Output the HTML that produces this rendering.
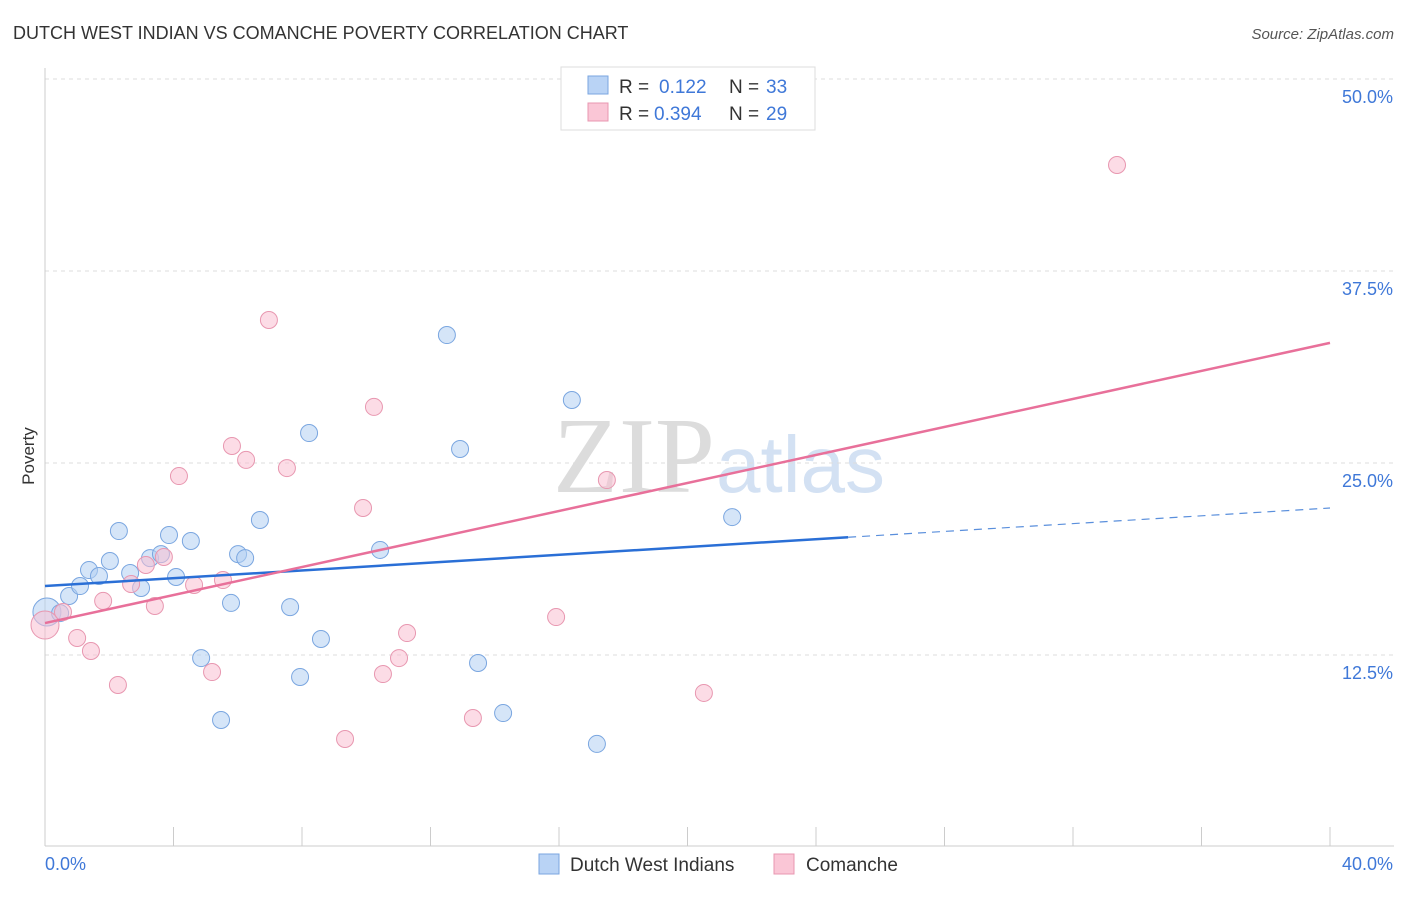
<!DOCTYPE html>
<html><head><meta charset="utf-8"><style>
body{margin:0;background:#fff;font-family:"Liberation Sans",sans-serif;}
svg text{font-family:"Liberation Sans",sans-serif;}
</style></head><body>
<svg id="c" width="1406" height="892">
<text x="13" y="39" font-size="18" fill="#333">DUTCH WEST INDIAN VS COMANCHE POVERTY CORRELATION CHART</text>
<text x="1394" y="39" font-size="15" fill="#555" font-style="italic" text-anchor="end">Source: ZipAtlas.com</text>
<text x="34" y="456" font-size="17" fill="#333" transform="rotate(-90 34 456)" text-anchor="middle">Poverty</text>
<text x="715" y="492" font-size="108" fill="#dcdcdc" text-anchor="end" style="font-family:'Liberation Serif',serif">ZIP</text>
<text x="716" y="492" font-size="80" fill="#d3e1f3">atlas</text>
<g id="grid"></g><g id="marks"></g>
<g>
<rect x="561" y="67" width="254" height="63" fill="#fff" stroke="#ddd"/>
<rect x="588" y="76" width="20" height="18" fill="#b9d3f5" stroke="#7aa6e0"/>
<rect x="588" y="103" width="20" height="18" fill="#fac6d6" stroke="#e897b0"/>
<text x="619" y="93" font-size="19" fill="#333">R = </text><text x="659" y="93" font-size="19" fill="#3f78d8">0.122</text>
<text x="729" y="93" font-size="19" fill="#333">N = </text><text x="766" y="93" font-size="19" fill="#3f78d8">33</text>
<text x="619" y="120" font-size="19" fill="#333">R = </text><text x="654" y="120" font-size="19" fill="#3f78d8">0.394</text>
<text x="729" y="120" font-size="19" fill="#333">N = </text><text x="766" y="120" font-size="19" fill="#3f78d8">29</text>
</g>
<g>
<rect x="539" y="854" width="20" height="20" fill="#b9d3f5" stroke="#7aa6e0"/>
<text x="570" y="871" font-size="19" fill="#333">Dutch West Indians</text>
<rect x="774" y="854" width="20" height="20" fill="#fac6d6" stroke="#e897b0"/>
<text x="806" y="871" font-size="19" fill="#333">Comanche</text>
</g>
</svg>
<script>
const yTicks=[12.5,25,37.5,50];
const yTickLabels=["12.5%","25.0%","37.5%","50.0%"];
const xTicks=[0,4,8,12,16,20,24,28,32,36,40];
const blueX=[0.06,0.47,0.75,1.09,1.37,1.68,2.02,2.30,2.65,2.99,3.27,3.61,3.86,4.08,4.54,4.86,5.48,5.79,6.01,6.23,6.69,7.63,7.94,8.22,8.59,10.43,12.51,12.92,13.48,14.26,16.40,17.18,21.39];
const blueY=[15.30,15.23,16.34,16.99,18.03,17.64,18.62,20.57,17.84,16.86,18.81,19.07,20.31,17.58,19.92,12.30,8.27,15.89,19.07,18.81,21.29,15.62,11.07,26.95,13.54,19.34,33.33,25.91,11.98,8.72,29.10,6.71,21.48];
const pinkX=[0,0.56,1.00,1.43,1.81,2.27,2.68,3.14,3.42,3.70,4.17,4.64,5.20,5.54,5.82,6.26,6.97,7.53,9.34,9.90,10.24,10.52,11.02,11.27,13.32,15.91,17.49,20.51,33.37];
const pinkY=[14.45,15.30,13.61,12.76,16.02,10.55,17.12,18.36,15.69,18.88,24.15,17.06,11.39,17.38,26.11,25.20,34.31,24.67,7.03,22.07,28.65,11.26,12.30,13.93,8.40,14.97,23.89,10.03,44.40];
const blueTrend=[16.99,0.127];
const pinkTrend=[14.58,0.456];
const blueSolidEnd=25.0;
const X=v=>45+v/40*1285, Y=v=>847-v/12.5*192;
const NS="http://www.w3.org/2000/svg";
function mk(t,a,p){const e=document.createElementNS(NS,t);for(const k in a)e.setAttribute(k,a[k]);p.appendChild(e);return e;}
const g=document.getElementById('grid'),m=document.getElementById('marks');
yTicks.forEach((t,i)=>{
 const l=mk('line',{x1:45,x2:1394,y1:Y(t),y2:Y(t),stroke:'#ddd','stroke-dasharray':'4 4'},g);
 
 
 const tx=mk('text',{x:1393,y:Y(t)+24,'font-size':18,fill:'#3f78d8','text-anchor':'end'},g);tx.textContent=yTickLabels[i];
 
 
});
mk('line',{x1:45,x2:45,y1:68,y2:846,stroke:'#ccc'},g);
mk('line',{x1:45,x2:1394,y1:846,y2:846,stroke:'#ccc'},g);
xTicks.forEach(t=>{const l=mk('line',{x1:X(t),x2:X(t),y1:827,y2:846,stroke:'#ccc'},g);
 
 });
let a=mk('text',{x:45,y:870,'font-size':18,fill:'#3f78d8'},g);a.textContent='0.0%';


a=mk('text',{x:1393,y:870,'font-size':18,fill:'#3f78d8','text-anchor':'end'},g);a.textContent='40.0%';


function pts(xs,ys,fill,stroke,name){xs.forEach((x,i)=>{const c=mk('circle',{cx:X(x),cy:Y(ys[i]),r:i==0?14:8.5,fill:fill,'fill-opacity':0.55,stroke:stroke,'stroke-width':1},m);
 
 });}
pts(blueX,blueY,'#b3cff2','#7aa6e0','dutch-west-indian-point');
pts(pinkX,pinkY,'#f9bfd1','#e897b0','comanche-point');
let l=mk('line',{x1:X(0),y1:Y(blueTrend[0]),x2:X(blueSolidEnd),y2:Y(blueTrend[0]+blueTrend[1]*blueSolidEnd),stroke:'#2a6fd6','stroke-width':2.5},m);


l=mk('line',{x1:X(blueSolidEnd),y1:Y(blueTrend[0]+blueTrend[1]*blueSolidEnd),x2:X(40),y2:Y(blueTrend[0]+blueTrend[1]*40),stroke:'#5a8fdc','stroke-width':1.2,'stroke-dasharray':'8 6'},m);


l=mk('line',{x1:X(0),y1:Y(pinkTrend[0]),x2:X(40),y2:Y(pinkTrend[0]+pinkTrend[1]*40),stroke:'#e8709a','stroke-width':2.5},m);


</script>
</body></html>
